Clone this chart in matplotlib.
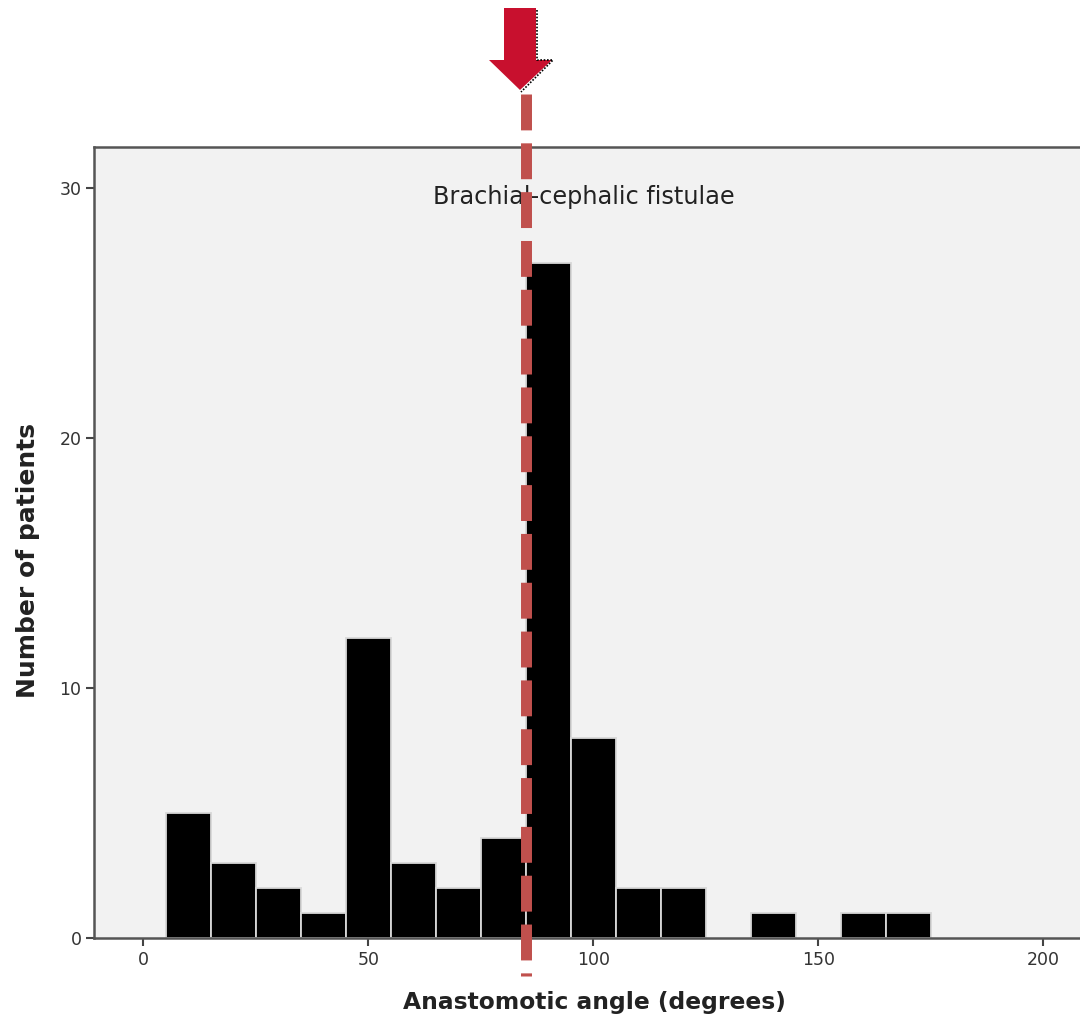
import matplotlib
matplotlib.use("Agg")
import matplotlib.pyplot as plt
from matplotlib.patches import Polygon

# histogram bins (10 degree wide) and patient counts
bin_starts = [5, 15, 25, 35, 45, 55, 65, 75, 85, 95, 105, 115, 125, 135, 145, 155, 165]
counts = [5, 3, 2, 1, 12, 3, 2, 4, 27, 8, 2, 2, 0, 1, 0, 1, 1]
marker_angle = 85
x_ticks = [0, 50, 100, 150, 200]
y_ticks = [0, 10, 20, 30]
group_label = "Brachial-cephalic fistulae"

W, H = 1080, 1021
fig = plt.figure(figsize=(W / 100, H / 100), dpi=100)
ax_w = 1 - 94 / W + 0.002
ax = fig.add_axes([94 / W, 1 - 938 / H, ax_w, (938 - 147) / H])
ax.set_facecolor("#f2f2f2")

xs = [b for b, c in zip(bin_starts, counts) if c > 0]
hs = [c for c in counts if c > 0]
ax.bar(xs, hs, width=10, align="edge", color="black",
       edgecolor="#d8d8d8", linewidth=1.3, zorder=2)

ax.set_xlim(-11, 208.6)
ax.set_ylim(0, 31.64)
ax.set_xticks(x_ticks)
ax.set_yticks(y_ticks)
ax.tick_params(axis="both", direction="out", length=6, width=1.5,
               color="#444444", labelsize=12.5, labelcolor="#333333", pad=3)

for side in ["left", "bottom", "top"]:
    ax.spines[side].set_color("#555555")
    ax.spines[side].set_linewidth(1.8)
ax.spines["right"].set_visible(False)

ax_px = ax_w * W
ax.set_xlabel("Anastomotic angle (degrees)", fontsize=16.8, fontweight="bold",
              color="#222222", va="center")
ax.xaxis.set_label_coords((594 - 94) / ax_px, (938 - 1002) / 791)
ax.set_ylabel("Number of patients", fontsize=18, fontweight="bold",
              color="#222222", va="center")
ax.yaxis.set_label_coords((28 - 94) / ax_px, (938 - 561) / 791)

ax.text((583 - 143.3) / 4.49, 29.66, group_label, ha="center", va="center",
        fontsize=17.3, color="#222222", zorder=3)

# dashed marker line, running past the axes
ax.axvline(marker_angle, ymin=(938 - 94) / 791, ymax=(938 - 976) / 791,
           color="#c0504d", linewidth=7.9, linestyle=(0, (3.27, 1.18)),
           clip_on=False, zorder=4)

# arrow above the marker
def fp(x, y):
    return (x / W, 1 - y / H)

shadow = [fp(537, 10), fp(537, 60), fp(553, 60), fp(521, 92)]
fig.lines.append(plt.Line2D([p[0] for p in shadow], [p[1] for p in shadow],
                            transform=fig.transFigure, color="black",
                            linewidth=1.2, linestyle=(0, (1, 1))))
arrow = Polygon([fp(504, 8), fp(536, 8), fp(536, 60), fp(552, 60),
                 fp(520, 90), fp(489, 60), fp(504, 60)],
                closed=True, transform=fig.transFigure,
                facecolor="#c8102e", edgecolor="none")
fig.patches.append(arrow)

fig.savefig("out.png", dpi=100)
